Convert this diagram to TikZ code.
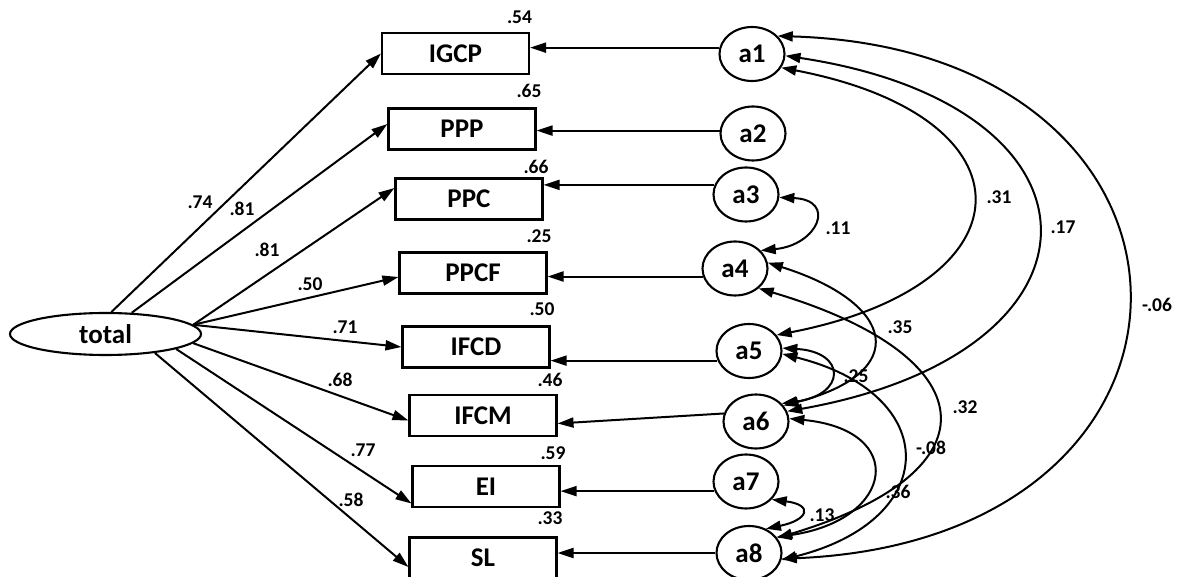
\documentclass[tikz,border=0pt]{standalone}
\usepackage{fontspec}
\setmainfont{Carlito}
\usetikzlibrary{shapes.geometric,arrows.meta}
\newcommand{\varfont}{\bfseries\fontsize{27}{30}\selectfont}
\newcommand{\estfont}{\bfseries\fontsize{19.5}{22}\selectfont}

\begin{document}
\begin{tikzpicture}[x=1pt,y=-1pt,
  obs/.style={draw,line width=2.1pt,minimum width=147pt,minimum height=41pt,inner sep=0pt,font=\varfont},
  err/.style={ellipse,draw,line width=2.1pt,minimum width=65pt,minimum height=54pt,inner sep=0pt,font=\varfont},
  est/.style={inner sep=0pt,font=\estfont},
  load/.style={line width=2pt,-{Triangle[length=16pt,width=10pt]}},
  cov/.style={line width=2pt,{Triangle[length=15pt,width=10pt]}-{Triangle[length=15pt,width=10pt]}}]
  \useasboundingbox (0,0) rectangle (1179,577);

  % latent factor
  \node[err,minimum width=191pt,minimum height=42pt] (total) at (105.5,334) {total};

  % indicators
  \node[obs] (IGCP) at (455.5,53.5) {IGCP};
  \node[obs] (PPP) at (462,129) {PPP};
  \node[obs] (PPC) at (469,199) {PPC};
  \node[obs] (PPCF) at (473,273) {PPCF};
  \node[obs] (IFCD) at (476,347) {IFCD};
  \node[obs] (IFCM) at (483,415.5) {IFCM};
  \node[obs] (EI) at (486,486.5) {EI};
  \node[obs] (SL) at (483,558) {SL};

  % errors
  \node[err] (a1) at (752,54) {a1};
  \node[err] (a2) at (753,133.5) {a2};
  \node[err] (a3) at (746,194.5) {a3};
  \node[err] (a4) at (735,268.5) {a4};
  \node[err] (a5) at (749,351) {a5};
  \node[err] (a6) at (756,421.5) {a6};
  \node[err] (a7) at (746,481.5) {a7};
  \node[err] (a8) at (749,553) {a8};

  % loadings
  \draw[load] (total.75) -- (IGCP.west);
  \draw[load] (total.39) -- ([yshift=5pt]PPP.west);
  \draw[load] (total.6) -- ([yshift=11pt]PPC.west);
  \draw[load] (total.6) -- ([yshift=-4pt]PPCF.west);
  \draw[load] (total.6) -- (IFCD.west);
  \draw[load] (total.-6) -- ([yshift=-5pt]IFCM.west);
  \draw[load] (total.-12) -- ([yshift=-17pt]EI.west);
  \draw[load] (total.-21) -- ([yshift=-9pt]SL.west);

  % error paths
  \draw[load] (a1.169) -- (a1.169 -| IGCP.east);
  \draw[load] (a2.175) -- (a2.175 -| PPP.east);
  \draw[load] (a3.163) -- (a3.163 -| PPC.east);
  \draw[load] (a4.194) -- (a4.194 -| PPCF.east);
  \draw[load] (a5.197) -- (a5.197 -| IFCD.east);
  \draw[load] (a6.166) -- ([yshift=-8pt]IFCM.east);
  \draw[load] (a7.197) -- (a7.197 -| EI.east);
  \draw[load] (a8.west) -- (a8.west -| SL.east);

  % covariances
  \draw[cov] (a3.-5) .. controls (837,200) and (818,245) .. (a4.35);
  \draw[cov] (a1.-25) .. controls (1039,117) and (1034,285) .. (a5.30);
  \draw[cov] (a1.-3) .. controls (1120,106) and (1122,352) .. (a6.18);
  \draw[cov] (a1.35) .. controls (1241,50) and (1245,540) .. (a8.-10);
  \draw[cov] (a4.10) .. controls (896,303) and (912,372) .. (a6.30);
  \draw[cov] (a4.-40) .. controls (984,355) and (1003,470) .. (a8.28);
  \draw[cov] (a5.5) .. controls (847,352) and (846,395) .. (a6.35);
  \draw[cov] (a5.-5) .. controls (943,394) and (942,520) .. (a8.-12);
  \draw[cov] (a6.5) .. controls (908,430) and (895,520) .. (a8.30);
  \draw[cov] (a7.-35) .. controls (814,505) and (808,520) .. (a8.55);

  % squared multiple correlations
  \node[est] (rIGCP) at (519.5,17.5) {.54};
  \node[est] (rPPP) at (529,91) {.65};
  \node[est] (rPPC) at (536,167) {.66};
  \node[est] (rPPCF) at (539,236) {.25};
  \node[est] (rIFCD) at (542,309) {.50};
  \node[est] (rIFCM) at (550,380) {.46};
  \node[est] (rEI) at (553,453) {.59};
  \node[est] (rSL) at (550,518) {.33};

  % loading estimates
  \node[est] (lIGCP) at (200,202) {.74};
  \node[est] (lPPP) at (242,209) {.81};
  \node[est] (lPPC) at (267,250) {.81};
  \node[est] (lPPCF) at (310,284) {.50};
  \node[est] (lIFCD) at (345,327) {.71};
  \node[est] (lIFCM) at (340,380) {.68};
  \node[est] (lEI) at (363,450) {.77};
  \node[est] (lSL) at (351,500) {.58};

  % covariance estimates
  \node[est] (c15) at (999,197) {.31};
  \node[est] (c16) at (1063,227) {.17};
  \node[est] (c34) at (838,228) {.11};
  \node[est] (c18) at (1157,305) {-.06};
  \node[est] (c46) at (900,327) {.35};
  \node[est] (c56) at (856,376) {.25};
  \node[est] (c48) at (965,407) {.32};
  \node[est] (c58) at (931,448) {-.08};
  \node[est] (c68) at (898,492) {.36};
  \node[est] (c78) at (822,515) {.13};
\end{tikzpicture}
\end{document}
